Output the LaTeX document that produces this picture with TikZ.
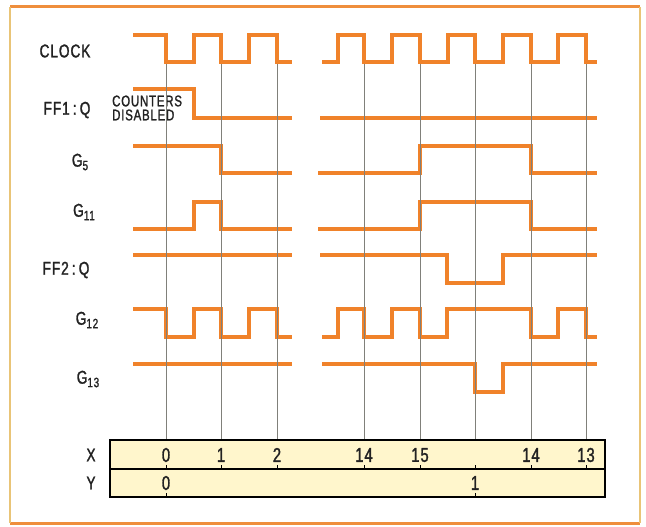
\documentclass[tikz,border=0pt]{standalone}
\usepackage{fontspec}
\usepackage{tikz}
\usetikzlibrary{positioning}
\newfontfamily\lblfont[FakeStretch=0.74, FakeBold=1.4, LetterSpace=5]{Liberation Sans}
\definecolor{wave}{HTML}{F0822A}
\definecolor{grid}{HTML}{80807A}
\definecolor{tablebg}{HTML}{FFF6CC}
\definecolor{frameor}{HTML}{EF8E3C}
\definecolor{frametan}{HTML}{E9C477}
\definecolor{ink}{HTML}{222222}
\newcommand{\subidx}[1]{\raisebox{-3.5pt}{\fontsize{13.5}{13.5}\selectfont #1}}

\begin{document}
\begin{tikzpicture}[x=1pt, y=-1pt,
  wave/.style={draw=wave, line width=3.2pt, line join=miter},
  gridline/.style={draw=grid, line width=0.9pt},
  lbl/.style={text=ink, inner sep=0pt, font=\lblfont\fontsize{18.5}{20}\selectfont},
  num/.style={text=ink, inner sep=0pt, font=\lblfont\fontsize{20}{20}\selectfont},
  note/.style={text=ink, inner sep=0pt, align=left, font=\lblfont\fontsize{15.5}{14}\selectfont}
]
  \useasboundingbox (0,0) rectangle (646,527);
  \fill[white] (0,0) rectangle (646,527);

  % Frame
  \draw[line width=3pt, frameor] (10,7) -- (640,7) (10,523) -- (640,523);
  \draw[line width=2.5pt, frametan] (10,7) -- (10,523) (640,7) -- (640,523);

  % Signal names
  \node[lbl] (clk) at (65,51) {CLOCK};
  \node[lbl] (ffone) at (67,110) {FF1\,:\,Q};
  \node[lbl] (gfive) at (80,162) {G\subidx{5}};
  \node[lbl] (geleven) at (84,212) {G\subidx{11}};
  \node[lbl] (fftwo) at (66,270) {FF2\,:\,Q};
  \node[lbl] (gtwelve) at (87,320) {G\subidx{12}};
  \node[lbl] (gthirteen) at (88,379) {G\subidx{13}};
  \node[note, anchor=west] (dis) at (112,108) {COUNTERS\\DISABLED};

  % Waveforms
  \draw[wave] (133,35) -| (166,62) -| (194,35) -| (221,62) -| (249,35) -| (277,62) -- (292,62);
  \draw[wave] (322,62) -| (338,35) -| (364,62) -| (392,35) -| (420,62) -| (448,35) -| (475,62)
    -| (503,35) -| (531,62) -| (558,35) -| (586,62) -- (597,62);
  \draw[wave] (133,89) -| (194,118) -- (292,118);
  \draw[wave] (320,118) -- (597,118);
  \draw[wave] (133,146) -| (221,173) -- (292,173);
  \draw[wave] (318,173) -| (420,146) -| (531,173) -- (597,173);
  \draw[wave] (133,229) -| (194,202) -| (221,229) -- (292,229);
  \draw[wave] (318,229) -| (420,202) -| (531,229) -- (597,229);
  \draw[wave] (133,255) -- (292,255);
  \draw[wave] (320,255) -| (447,283) -| (503,255) -- (597,255);
  \draw[wave] (133,309) -| (166,337) -| (194,309) -| (221,337) -| (249,309) -| (277,337) -- (292,337);
  \draw[wave] (322,337) -| (338,309) -| (364,337) -| (392,309) -| (420,337) -| (447,309) -| (531,337)
    -| (558,309) -| (586,337) -- (597,337);
  \draw[wave] (133,364) -- (292,364);
  \draw[wave] (322,364) -| (475,392) -| (503,364) -- (597,364);

  % Clock edges
  \foreach \x in {166,221,277,364,420,475,531,586}
    \draw[gridline] (\x,64) -- (\x,440);

  % Counter table
  \draw[fill=tablebg, line width=1.3pt] (110,440) rectangle (605,497);
  \draw[line width=1.3pt] (110,469) -- (605,469);
  \foreach \x in {166,221,277,364,420,475,531,586}
    \draw[line width=0.9pt] (\x,469) -- (\x,465);
  \foreach \x in {166,475}
    \draw[line width=0.9pt] (\x,497) -- (\x,493);
  \node[lbl] (xlab) at (91,455) {X};
  \node[lbl] (ylab) at (91,483) {Y};
  \foreach \x/\t [count=\i] in {166/0,221/1,277/2,364/14,420/15,531/14,586/13}
    \node[num] (xn\i) at (\x,455) {\t};
  \node[num] (yzero) at (166,483) {0};
  \node[num] (yone) at (475,483) {1};
\end{tikzpicture}
\end{document}
